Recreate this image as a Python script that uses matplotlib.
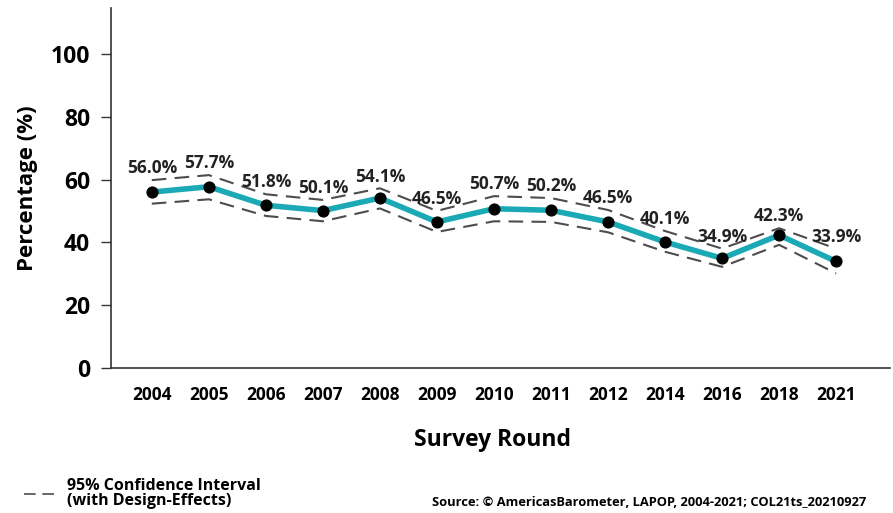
import numpy as np
import matplotlib.pyplot as plt

plt.rcParams['font.family'] = ['Open Sans', 'DejaVu Sans']

# datos
years = ['2004', '2005', '2006', '2007', '2008', '2009', '2010', '2011',
         '2012', '2014', '2016', '2018', '2021']
pct = [56.0, 57.7, 51.8, 50.1, 54.1, 46.5, 50.7, 50.2, 46.5, 40.1, 34.9, 42.3, 33.9]
ci_upper = [59.8, 61.4, 55.3, 53.5, 57.2, 50.0, 54.7, 54.1, 50.3, 43.6, 38.0, 44.5, 38.0]
ci_lower = [52.3, 53.7, 48.4, 46.7, 50.8, 43.3, 46.7, 46.5, 43.2, 37.0, 32.2, 39.2, 30.1]
yticks = [0, 20, 40, 60, 80, 100]

fig = plt.figure(figsize=(8.93, 5.13), dpi=100)
ax = fig.add_axes([0.124, 0.2827, 0.873, 0.7017])

x = np.arange(len(years))
ax.plot(x, ci_upper, color='#4d4d4d', lw=1.5, dashes=(7, 4))
ax.plot(x, ci_lower, color='#4d4d4d', lw=1.5, dashes=(7, 4))
ax.plot(x, pct, color='#1ba9b5', lw=4, zorder=3)
ax.scatter(x, pct, s=60, color='black', zorder=4)

for xi, v, up in zip(x, pct, ci_upper):
    ax.annotate(f'{v:.1f}%', (xi, up), xytext=(0, 2), textcoords='offset points',
                ha='center', va='bottom', fontsize=12.5, fontweight='bold',
                color='#222222')

ax.set_xlim(-0.72, 12.95)
ax.set_ylim(0, 114.6)
ax.set_xticks(x)
ax.set_xticklabels(years, fontsize=12.5, fontweight='bold')
ax.tick_params(axis='x', length=0, pad=13)
ax.set_yticks(yticks)
ax.set_yticklabels([str(t) for t in yticks], fontsize=16.5, fontweight='bold')
ax.tick_params(axis='y', length=7, width=1, color='#333333', pad=8)

for s in ['top', 'right']:
    ax.spines[s].set_visible(False)
for s in ['left', 'bottom']:
    ax.spines[s].set_linewidth(1.2)
    ax.spines[s].set_color('#333333')

ax.set_xlabel('Survey Round', fontsize=16.5, fontweight='bold')
ax.xaxis.set_label_coords(0.49, -0.168)
ax.set_ylabel('Percentage (%)', fontsize=16, fontweight='bold', labelpad=9)

# leyenda y fuente
fig.lines.append(plt.Line2D([0.027, 0.062], [0.037, 0.037], transform=fig.transFigure,
                            color='#4d4d4d', lw=1.2, dashes=(7, 4)))
fig.text(0.075, 0.038, '95% Confidence Interval\n(with Design-Effects)',
         fontsize=11.5, fontweight='bold', va='center', ha='left', linespacing=0.92)
fig.text(0.97, 0.008, 'Source: © AmericasBarometer, LAPOP, 2004-2021; COL21ts_20210927',
         fontsize=9.3, fontweight='bold', ha='right', va='bottom')

plt.savefig('out.png', dpi=100)
